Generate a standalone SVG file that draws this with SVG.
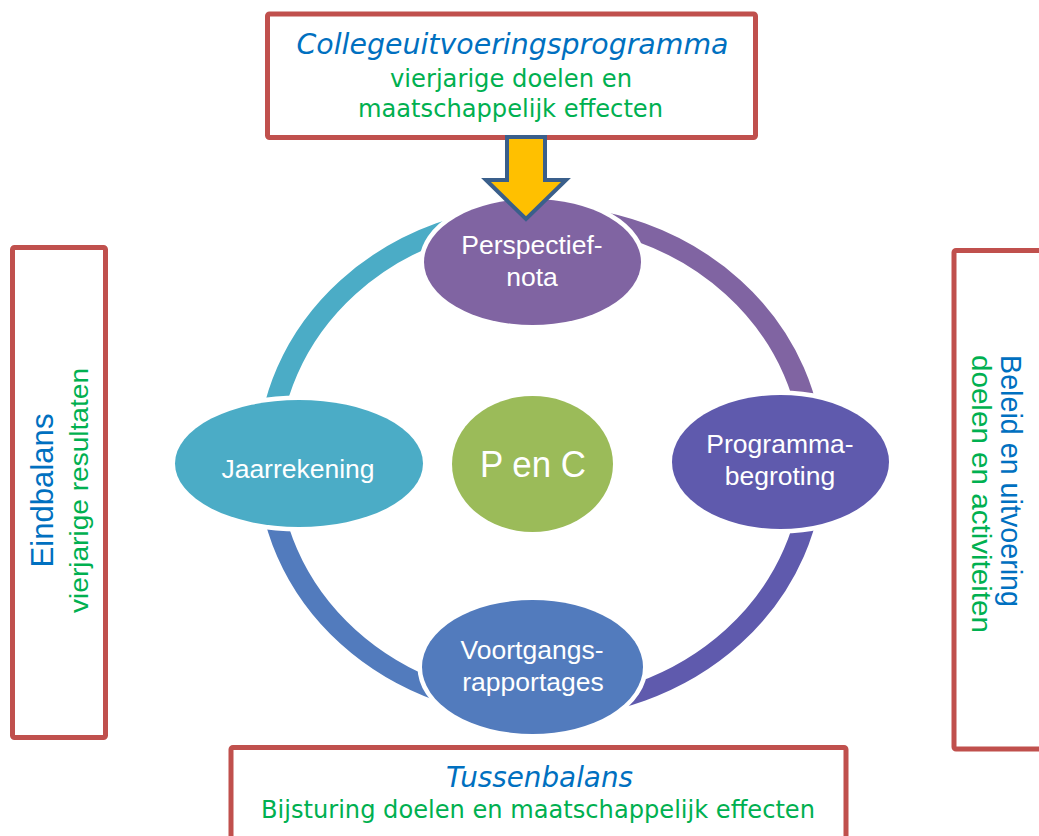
<svg xmlns="http://www.w3.org/2000/svg" width="1039" height="836" viewBox="0 0 1039 836">
<style>
.box{fill:#fff;stroke:#C0504D;stroke-width:5}
.ttl{font-family:"DejaVu Sans","Liberation Sans",sans-serif;font-style:italic;fill:#0070C0;text-anchor:middle}
.sub{font-family:"DejaVu Sans","Liberation Sans",sans-serif;fill:#00B050;text-anchor:middle}
.side{font-family:"Liberation Sans","DejaVu Sans",sans-serif}
.node{stroke:#fff;stroke-width:9;paint-order:stroke}
.lbl{font-family:"Liberation Sans","DejaVu Sans",sans-serif;font-size:26.5px;fill:#fff;text-anchor:middle}
.arc{fill:none;stroke-width:19.5}
</style>
<rect width="1039" height="836" fill="#fff"/>

<g id="connectors">
  <g transform="translate(540.5,462) scale(1.103,1)">
    <path class="arc" stroke="#8064A2" d="M 0 -247 A 247 247 0 0 1 247 0"/>
    <path class="arc" stroke="#5F5AAD" d="M 247 0 A 247 247 0 0 1 0 247"/>
    <path class="arc" stroke="#527BBD" d="M 0 247 A 247 247 0 0 1 -247 0"/>
    <path class="arc" stroke="#4BACC6" d="M -247 0 A 247 247 0 0 1 0 -247"/>
  </g>
</g>

<g id="box-top">
  <rect class="box" x="267.5" y="14" width="488" height="123.5" rx="2"/>
  <text class="ttl" x="512.5" y="54" font-size="29" textLength="432" lengthAdjust="spacingAndGlyphs">Collegeuitvoeringsprogramma</text>
  <text class="sub" x="511" y="86.5" font-size="24" textLength="242" lengthAdjust="spacingAndGlyphs">vierjarige doelen en</text>
  <text class="sub" x="510.5" y="117" font-size="24" textLength="305" lengthAdjust="spacingAndGlyphs">maatschappelijk effecten</text>
</g>

<g id="box-left">
  <rect class="box" x="12.5" y="247.5" width="93" height="490" rx="2"/>
  <text class="side" transform="translate(53,490.5) rotate(-90)" text-anchor="middle" font-size="31" fill="#0070C0" textLength="154" lengthAdjust="spacingAndGlyphs">Eindbalans</text>
  <text class="side" transform="translate(88,490.5) rotate(-90)" text-anchor="middle" font-size="26" fill="#00B050" textLength="245" lengthAdjust="spacingAndGlyphs">vierjarige resultaten</text>
</g>

<g id="box-right">
  <rect class="box" x="954" y="250.5" width="100" height="498.5" rx="2"/>
  <text class="side" transform="translate(1001,355) rotate(90)" font-size="29" fill="#0070C0" textLength="252" lengthAdjust="spacingAndGlyphs">Beleid en uitvoering</text>
  <text class="side" transform="translate(972,355) rotate(90)" font-size="27" fill="#00B050" textLength="278" lengthAdjust="spacingAndGlyphs">doelen en activiteiten</text>
</g>

<g id="box-bottom">
  <rect class="box" x="231" y="747.5" width="615" height="120" rx="2"/>
  <text class="ttl" x="539.5" y="787" font-size="29" textLength="187" lengthAdjust="spacingAndGlyphs">Tussenbalans</text>
  <text class="sub" x="538" y="818" font-size="24" textLength="554" lengthAdjust="spacingAndGlyphs">Bijsturing doelen en maatschappelijk effecten</text>
</g>

<g id="node-perspectiefnota">
  <ellipse class="node" cx="532.5" cy="262" rx="108.5" ry="63" fill="#8064A2"/>
  <text class="lbl" x="532" y="254">Perspectief-</text>
  <text class="lbl" x="532" y="286">nota</text>
</g>

<g id="node-programmabegroting">
  <ellipse class="node" cx="780.5" cy="462" rx="108.5" ry="67" fill="#5F5AAD"/>
  <text class="lbl" x="780" y="453">Programma-</text>
  <text class="lbl" x="780" y="485">begroting</text>
</g>

<g id="node-voortgangsrapportages">
  <ellipse class="node" cx="532.5" cy="667" rx="110.5" ry="67" fill="#527BBD"/>
  <text class="lbl" x="532" y="659">Voortgangs-</text>
  <text class="lbl" x="533" y="691">rapportages</text>
</g>

<g id="node-jaarrekening">
  <ellipse class="node" cx="299" cy="463.5" rx="124" ry="63.5" fill="#4BACC6"/>
  <text class="lbl" x="298" y="478">Jaarrekening</text>
</g>

<g id="node-penc">
  <ellipse class="node" cx="532.5" cy="464" rx="80.5" ry="68" fill="#9BBB59"/>
  <text class="lbl" x="533" y="477" font-size="37" style="font-size:37px" textLength="106" lengthAdjust="spacingAndGlyphs">P en C</text>
</g>

<g id="arrow">
  <path d="M 507 137 L 545 137 L 545 180 L 566 180 L 526 219 L 486 180 L 507 180 Z" fill="#FFC000" stroke="#3A5F8B" stroke-width="4" stroke-linejoin="miter"/>
</g>
</svg>
